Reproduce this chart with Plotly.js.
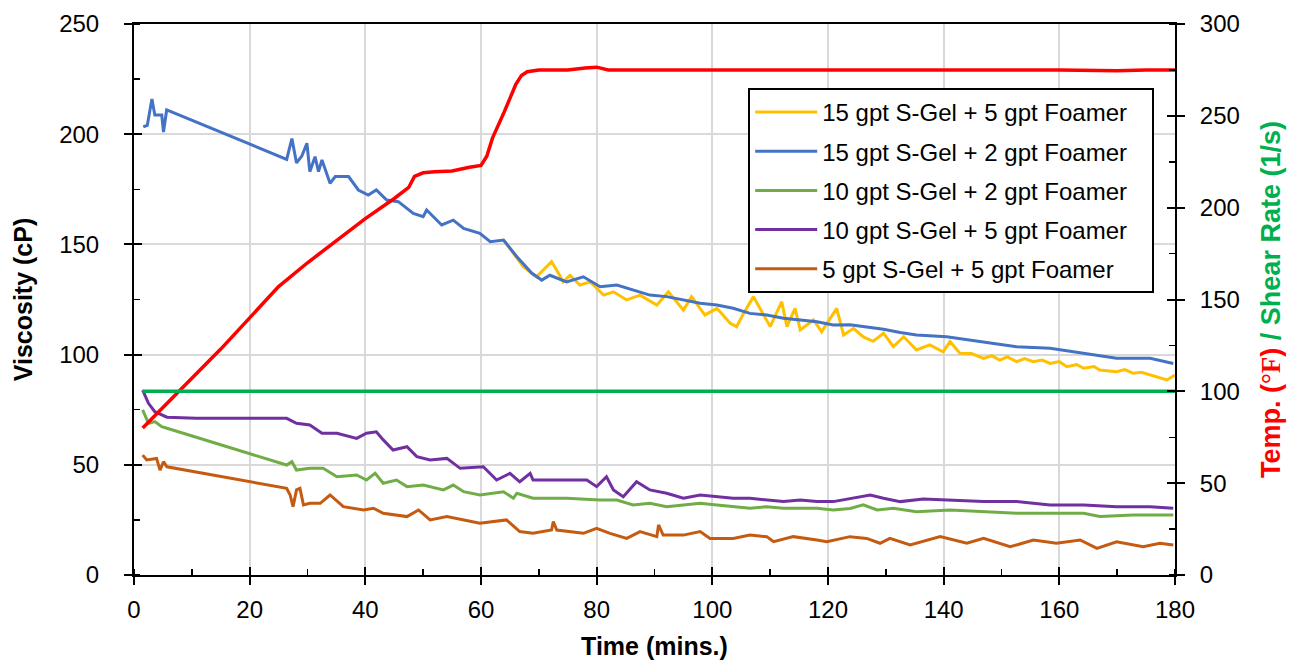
<!DOCTYPE html>
<html>
<head>
<meta charset="utf-8">
<script src="https://cdn.plot.ly/plotly-3.0.1.min.js"></script>
<style>html,body{margin:0;padding:0;background:#fff;}#chart{width:1296px;height:662px;}</style>
</head>
<body>
<div id="chart"></div>
<script>
// ---- Data ----
const seriesNames = [
  "15 gpt S-Gel + 5 gpt Foamer",
  "15 gpt S-Gel + 2 gpt Foamer",
  "10 gpt S-Gel + 2 gpt Foamer",
  "10 gpt S-Gel + 5 gpt Foamer",
  "5 gpt S-Gel + 5 gpt Foamer"
];

const yellowT = [63.9,65.6,67.3,69.6,72.2,73.4,74.2,75.4,77.1,78.9,81.2,82.9,85.2,87.5,90.4,92.4,95.0,96.4,98.7,100.8,103.1,104.2,105.4,107.1,108.8,110.0,112.0,112.9,114.3,115.2,117.5,118.9,121.5,122.7,124.4,126.1,127.8,129.6,131.3,133.1,135.3,137.6,139.9,141.1,142.8,144.8,146.9,148.3,149.7,151.0,152.6,154.0,155.5,157.0,158.4,160.0,161.3,163.0,164.2,166.0,167.0,169.9,171.3,172.8,174.2,175.7,178.6,180];
const yellowV = [152,146,139.9,135.3,142.2,136.9,133,136,131.6,133,127,128.5,124.8,127,122.5,128.5,120.2,126.3,118,121,114.2,112.7,118.7,126.3,118,112.7,124,112.7,121,111.2,115.7,110.4,121,108.9,111.9,108,106,109.7,103.6,108.1,102.1,104.4,101.3,105.9,100.6,100.5,98.3,99.5,97.5,99,96.8,98.2,96.8,97.5,96,96.8,94.5,95.5,93.8,94.6,93,92.2,93.2,91.5,92,90.7,88.5,90.7];

const blueT = [1.6,2.3,3.1,3.6,4.8,5.1,5.65,26.4,27.3,28.1,29.0,29.9,30.4,31.3,31.9,32.5,33.9,34.8,37.1,38.8,40.5,41.9,43.7,45.7,48.3,50.0,50.6,53.2,55.2,57.0,59.8,61.6,63.9,65.6,66.2,68.8,70.5,71.9,74.8,77.7,80.6,83.5,86.3,89.2,92.1,95.0,97.9,100.8,103.6,106.5,109.4,112.3,115.2,118.1,120.9,123.8,126.7,129.6,132.5,135.3,140.5,146.9,152.6,158.4,164.2,169.9,175.7,179.7];
const blueV = [203.4,204,216,208.7,208.7,201,211,188.6,198,187,190,195.9,183,189.8,183,188.3,177.7,180.8,180.8,174.7,172.4,174.7,170.1,169.4,164.1,162.6,165.6,158.8,161,157.3,155,151.2,152,146,144.4,136.9,133.8,136,133,135.3,130.8,131.6,129.3,127,126.3,124.8,123.3,122.5,121,118.7,118,116.5,115.7,114.9,113.4,113.5,112.5,111.5,110,108.9,108.1,105.9,103.6,102.9,100.6,98.3,98.3,96];

const greenT = [1.5,2.5,3.6,4.8,5.7,26.4,27.3,28.1,30.4,32.7,35.1,38.5,40.2,41.7,43.1,45.4,47.2,50.0,53.5,55.2,57.0,59.8,63.9,65.6,66.2,69.0,74.8,80.6,83.5,86.3,89.2,92.1,95.0,97.9,100.8,103.6,106.5,109.4,112.3,115.2,118.1,120.9,123.8,126.1,128.5,131.3,135.3,141.1,146.9,152.6,158.4,164.2,167.0,172.8,179.7];
const greenV = [74.9,68.8,69.6,67.3,66.6,49.9,51.4,47.6,48.4,48.4,44.6,45.4,43.1,46.1,41.6,43.1,40.1,40.8,38.6,40.8,37.8,36.3,37.8,34.8,37.1,34.8,34.8,34,34,31.8,32.5,31,31.8,32.5,31.8,31,30.3,31,30.3,30.3,30.3,29.5,30.2,31.8,29.5,30.3,28.7,29.5,28.7,28,28,28,26.5,27.2,27.2];

const purpleT = [1.5,2.5,3.6,5.7,10.8,26.4,28.1,30.4,32.5,35.1,38.5,40.2,41.9,43.1,44.8,47.2,48.9,51.2,54.1,56.4,60.4,62.7,65.0,66.7,68.5,69.0,74.8,78.3,80.0,81.7,82.9,84.6,86.9,89.2,92.1,95.0,97.9,100.8,103.6,106.5,109.4,112.3,115.2,118.1,120.9,123.8,127.3,129.6,132.5,136.5,141.1,146.9,152.6,158.4,164.2,169.9,175.7,179.7];
const purpleV = [83.9,77.9,74.1,71.6,71.1,71.1,68.8,68.1,64.3,64.3,62,64.3,65,61.3,56.7,58.2,53.7,52.2,52.9,48.4,49.1,43.1,46.1,42.3,46.1,43.1,43.1,43.1,40.1,44.6,38.6,35.5,42.3,38.6,37.1,34.8,36.3,35.5,34.8,34.8,34,33.3,34,33.3,33.3,34.8,36.3,34.8,33.3,34.5,34,33.3,33.3,31.8,31.8,31,31,30.3];

const brownT = [1.5,2.2,3.9,4.5,5.1,5.7,26.4,27.0,27.5,28.1,28.7,29.3,30.4,32.2,33.9,36.2,39.7,41.4,43.1,45.4,47.2,49.2,51.2,54.1,56.9,59.8,64.4,66.7,69.0,72.2,72.5,73.1,77.7,80.0,82.3,85.2,87.5,90.4,90.7,91.5,95.0,97.9,99.6,103.6,106.5,109.4,110.6,114.0,118.1,119.8,123.8,126.7,129.0,130.7,134.2,139.4,144.0,146.9,151.5,155.5,159.5,163.6,166.5,169.9,174.5,177.4,179.7];
const brownV = [54.4,52.2,52.9,47.6,51.4,49.1,39.3,36.3,31,38.6,39.3,31.8,32.5,32.5,36.3,31,29.5,30.3,28,27.2,26.5,29.5,25,26.5,25,23.5,25,19.7,18.9,20.4,24.2,20.4,18.9,21.2,18.9,16.6,19.7,17.4,22.7,18.1,18.1,19.7,16.6,16.6,18.1,17.4,15.1,17.4,15.9,15.1,17.4,16.6,14.4,16.6,13.6,17.4,14.4,16.6,12.8,15.9,14.4,15.9,12.1,15.1,12.8,14.4,13.6];

const tempT = [1.5,5,10,15,20,25,30,35,40,45,47.5,48.5,50,52,55,58,60,61,62,64,66,67,68,70,75,78,80,82,90,100,110,120,130,140,150,160,170,175,180];
const tempV = [80,91,107,123,140,157,170,182,194,205,211,217,219,219.5,220,222,223,228,238,252,267,272,274,275,275,276,276.5,275,275,275,275,275,275,275,275,275,274.5,275,275];

const shearT = [1.5,180];
const shearV = [100,100];

const colors = ["#FFC000","#4472C4","#70AD47","#7030A0","#C55A11"];
const xs = [yellowT, blueT, greenT, purpleT, brownT];
const ys = [yellowV, blueV, greenV, purpleV, brownV];

const traces = seriesNames.map((n,i)=>({
  x: xs[i], y: ys[i], name: n + '\u00A0\u00A0\u00A0', type:'scatter', mode:'lines',
  line:{color:colors[i], width:3},
  legendgroup:'g'+i
}));
traces.push({x: tempT, y: tempV, yaxis:'y2', type:'scatter', mode:'lines', line:{color:'#FF0000', width:3.5}, showlegend:false});
traces.push({x: shearT, y: shearV, yaxis:'y2', type:'scatter', mode:'lines', line:{color:'#00B050', width:3.5}, showlegend:false});
// empty helper traces so the inside-tick overlay axes get drawn
traces.push({x: [], y: [], xaxis:'x2', yaxis:'y3', type:'scatter', mode:'lines', showlegend:false, hoverinfo:'skip'});
traces.push({x: [], y: [], xaxis:'x2', yaxis:'y4', type:'scatter', mode:'lines', showlegend:false, hoverinfo:'skip'});

const F = 'Liberation Sans, Arial, sans-serif';
const tk = {family:F, size:24, color:'#000'};
const inAx = {showgrid:false, showline:false, zeroline:false, showticklabels:false,
  ticks:'inside', ticklen:8, tickwidth:2, tickcolor:'#000'};
const layout = {
  width:1296, height:662,
  margin:{l:134, r:121, t:24, b:87},
  paper_bgcolor:'#fff', plot_bgcolor:'#fff',
  font:{family:F, color:'#000'},
  showlegend:true,
  legend:{x:0.59, y:0.884, xanchor:'left', yanchor:'top', bgcolor:'#fff', bordercolor:'#000', borderwidth:2,
    font:{family:F, size:24, color:'#000'}, tracegroupgap:5, traceorder:'grouped', itemwidth:62},
  xaxis:{range:[0,180], dtick:20, tick0:0, showgrid:true, gridcolor:'#D9D9D9', gridwidth:2,
    showline:true, linecolor:'#000', linewidth:2, mirror:true, zeroline:false,
    ticks:'outside', ticklen:8, tickwidth:2, tickcolor:'#000',
    minor:{dtick:10, ticks:'inside', ticklen:6, tickwidth:1.5, tickcolor:'#000', showgrid:false},
    tickfont:tk, ticklabelstandoff:4,
    title:{text:'<b>Time (mins.)</b>', font:{family:F, size:25, color:'#000'}, standoff:16}},
  xaxis2:Object.assign({range:[0,180], dtick:20, tick0:0, overlaying:'x', anchor:'y', side:'bottom'}, inAx),
  yaxis:{range:[0,250], dtick:50, showgrid:true, gridcolor:'#D9D9D9', gridwidth:2,
    showline:true, linecolor:'#000', linewidth:2, zeroline:false,
    ticks:'outside', ticklen:8, tickwidth:2, tickcolor:'#000',
    minor:{dtick:25, ticks:'inside', ticklen:6, tickwidth:1.5, tickcolor:'#000', showgrid:false},
    tickfont:tk, ticklabelstandoff:20,
    title:{text:'<b>Viscosity (cP)</b>', font:{family:F, size:25, color:'#000'}, standoff:19}},
  yaxis3:Object.assign({range:[0,250], dtick:50, overlaying:'y', anchor:'x', side:'left'}, inAx),
  yaxis2:{range:[0,300], dtick:50, overlaying:'y', side:'right', showgrid:false,
    showline:true, linecolor:'#000', linewidth:2, zeroline:false,
    ticks:'outside', ticklen:8, tickwidth:2, tickcolor:'#000',
    minor:{dtick:25, ticks:'inside', ticklen:6, tickwidth:1.5, tickcolor:'#000', showgrid:false},
    tickfont:tk, ticklabelstandoff:10,
    title:{text:'<b><span style="color:#FF0000">Temp. (</span><span style="color:#FF0000;font-family:Liberation Serif">°F</span><span style="color:#FF0000">)</span><span style="color:#00B050"> / Shear Rate (1/s)</span></b>',
      font:{family:F, size:27, color:'#00B050'}, standoff:22}},
  yaxis4:Object.assign({range:[0,300], dtick:50, overlaying:'y', anchor:'x', side:'right'}, inAx)
};

Plotly.newPlot('chart', traces, layout, {displayModeBar:false, staticPlot:true});
</script>
</body>
</html>
